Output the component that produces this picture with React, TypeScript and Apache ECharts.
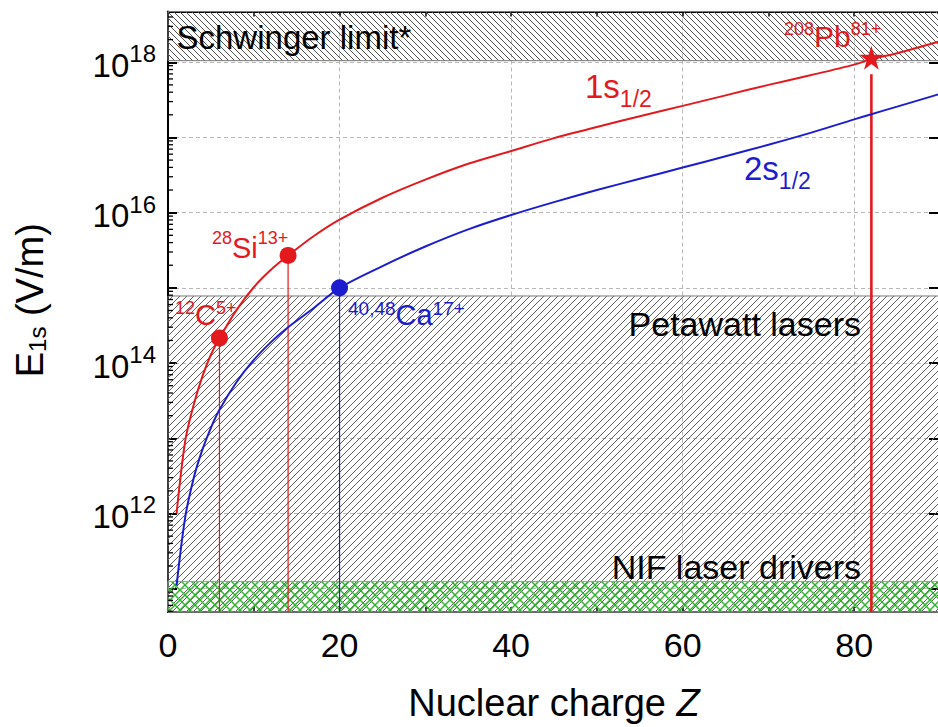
import React, { useEffect, useRef } from 'react';
import * as echarts from 'echarts';

const FONT = '"Liberation Sans", Arial, Helvetica, sans-serif';
const RED = '#e3191e';
const BLUE = '#1d1dd0';

// Curves: electric field at the 1s and 2s orbitals vs nuclear charge Z
const curveZ = [1, 2, 3, 4, 5, 6, 8, 10, 12, 14, 17, 20, 25, 30, 35, 40, 45, 50, 55, 60, 65, 70, 75, 80, 82, 85, 90];
const field1s = [1.0e12, 9.1e12, 2.8e13, 6.6e13, 1.29e14, 2.14e14, 5.1e14, 1.02e15, 1.74e15, 2.69e15, 4.9e15, 8.1e15, 1.58e16, 2.75e16, 4.47e16, 6.6e16, 9.8e16, 1.38e17, 1.91e17, 2.63e17, 3.63e17, 5.0e17, 6.76e17, 9.3e17, 1.1e18, 1.32e18, 1.9e18];
const field2s = [1.1e11, 8.8e11, 2.97e12, 7.0e12, 1.38e13, 2.4e13, 5.6e13, 1.1e14, 1.9e14, 3.0e14, 5.4e14, 1.0e15, 1.95e15, 3.55e15, 6.0e15, 9.3e15, 1.38e16, 2.0e16, 2.82e16, 3.98e16, 5.62e16, 8.0e16, 1.16e17, 1.74e17, 2.04e17, 2.57e17, 3.8e17];

// Highlighted ions
const ionZ = [6, 14, 20, 82];
const ionField = [2.15e14, 2.7e15, 1.0e15, 1.15e18];
const ionColor = [RED, RED, BLUE, RED];
const ionDropTop = [2.15e14, 2.7e15, 1.0e15, 6.9e17];

// Field regions
const schwingerLimit = 1.05e18;
const petawattLevel = 7.8e14;
const nifLevel = 1.25e11;

// Axes
const zMin = 0;
const zMax = 90;
const eMin = 4.9e10;
const eMax = 4.73e18;
const xLabelValues = [0, 20, 40, 60, 80];
const yLabelExponents = [12, 14, 16, 18];

function hatch(size: number, color: string, lw: number, dirs: string[]) {
  const c = document.createElement('canvas');
  c.width = size;
  c.height = size;
  const ctx = c.getContext('2d') as CanvasRenderingContext2D;
  ctx.strokeStyle = color;
  ctx.lineWidth = lw;
  for (const d of dirs) {
    for (const k of [-size, 0, size]) {
      ctx.beginPath();
      if (d === '/') {
        ctx.moveTo(k, size);
        ctx.lineTo(k + size, 0);
      } else {
        ctx.moveTo(k, 0);
        ctx.lineTo(k + size, size);
      }
      ctx.stroke();
    }
  }
  return { image: c.toDataURL(), repeat: 'repeat', imageWidth: size, imageHeight: size } as any;
}

const tok = (size: number, color: string, pad?: number[], extra?: any) => ({
  fontSize: size,
  fontFamily: FONT,
  fill: color,
  color,
  ...(pad ? { padding: pad } : {}),
  ...(extra || {}),
});

function textEl(x: number, y: number, text: string, opts: any = {}) {
  const align = opts.align || 'left';
  return {
    type: 'text',
    x,
    y,
    silent: true,
    z: 50,
    style: {
      text,
      rich: opts.rich,
      align,
      textAlign: align,
      verticalAlign: 'middle',
      textVerticalAlign: 'middle',
      fontFamily: FONT,
      fontSize: opts.fontSize || 32,
      fill: opts.color || '#000',
    },
  };
}

export default function App() {
  const ref = useRef<HTMLDivElement>(null);
  useEffect(() => {
    if (!ref.current) return;
    const chart = echarts.init(ref.current, undefined, { renderer: 'svg' });

    const schwingerFill = hatch(6, '#505050', 1, ['\\']);
    const petawattFill = hatch(7, '#5e5e5e', 1, ['/']);
    const nifFill = hatch(10, '#2fb82f', 1.5, ['/', '\\']);

    const minorVals: number[] = [];
    for (let d = 10; d <= 18; d++) {
      for (let k = 2; k <= 9; k++) {
        const v = k * Math.pow(10, d);
        if (v > eMin && v < eMax) minorVals.push(v);
      }
    }

    const tickLabelStyle = { color: '#000', fontFamily: FONT };

    const option: any = {
      animation: false,
      backgroundColor: '#fff',
      grid: { left: 168, top: 11.5, right: 0, bottom: 110.3, containLabel: false },
      xAxis: [
        {
          type: 'value',
          position: 'bottom',
          min: zMin,
          max: zMax,
          interval: 10,
          axisLine: { show: true, onZero: false, lineStyle: { color: '#000', width: 2 } },
          axisTick: { show: true, inside: true, length: 5, lineStyle: { color: '#000', width: 1.5 } },
          axisLabel: {
            ...tickLabelStyle,
            fontSize: 34,
            margin: 16,
            formatter: (v: number) => (xLabelValues.includes(v) ? String(v) : ''),
          },
          splitLine: { show: false },
          name: '{b|Nuclear charge }{i|Z}',
          nameLocation: 'middle',
          nameGap: 72,
          nameTextStyle: {
            fontSize: 38,
            fontFamily: FONT,
            color: '#000',
            rich: {
              b: { fontSize: 38, fontFamily: FONT, color: '#000' },
              i: { fontSize: 38, fontFamily: FONT, color: '#000', fontStyle: 'italic' },
            },
          },
        },
        {
          type: 'value',
          position: 'top',
          min: zMin,
          max: zMax,
          interval: 10,
          axisLine: { show: true, onZero: false, lineStyle: { color: '#000', width: 2 } },
          axisTick: { show: true, inside: true, length: 5, lineStyle: { color: '#000', width: 1.5 } },
          axisLabel: { show: false },
          splitLine: { show: false },
        },
        {
          type: 'value',
          position: 'bottom',
          min: zMin,
          max: zMax,
          interval: 20,
          axisLine: { show: false },
          axisTick: { show: false },
          axisLabel: { show: false },
          splitLine: { show: true, lineStyle: { color: '#b8b8b8', width: 1, type: [4, 3] } },
        },
      ],
      yAxis: [
        {
          type: 'log',
          logBase: 10,
          position: 'left',
          min: eMin,
          max: eMax,
          axisLine: { show: true, onZero: false, lineStyle: { color: '#000', width: 2 } },
          axisTick: { show: true, inside: true, length: 9, lineStyle: { color: '#000', width: 2 } },
          axisLabel: {
            ...tickLabelStyle,
            margin: 12,
            formatter: (v: number) => {
              const l = Math.log10(v);
              const e = Math.round(l);
              if (Math.abs(l - e) < 1e-6 && yLabelExponents.includes(e)) return `{b|10}{s|${e}}`;
              return '';
            },
            rich: {
              b: { fontSize: 33, fontFamily: FONT, color: '#000', padding: [6, 0, 0, 0] },
              s: { fontSize: 24, fontFamily: FONT, color: '#000', padding: [0, 0, 17, 0] },
            },
          },
          splitLine: { show: true, lineStyle: { color: '#b8b8b8', width: 1, type: [4, 3] } },
          name: '{b|E}{sub|1s}{b| (V/m)}',
          nameLocation: 'middle',
          nameGap: 119,
          nameTextStyle: {
            fontSize: 38,
            fontFamily: FONT,
            color: '#000',
            padding: [0, 0, 0, 23],
            rich: {
              b: { fontSize: 38, fontFamily: FONT, color: '#000' },
              sub: { fontSize: 24, fontFamily: FONT, color: '#000', padding: [15, 0, 0, 0] },
            },
          },
        },
        {
          type: 'log',
          logBase: 10,
          position: 'right',
          min: eMin,
          max: eMax,
          axisLine: { show: true, onZero: false, lineStyle: { color: '#000', width: 2 } },
          axisTick: { show: true, inside: true, length: 11, lineStyle: { color: '#000', width: 2 } },
          axisLabel: { show: false },
          splitLine: { show: false },
        },
      ],
      series: [
        {
          type: 'line',
          name: 'regions',
          silent: true,
          z: 1,
          data: [[zMin, eMin]],
          showSymbol: false,
          lineStyle: { opacity: 0 },
          markArea: {
            silent: true,
            label: { show: false },
            data: [
              [
                { yAxis: schwingerLimit, itemStyle: { color: schwingerFill, opacity: 1, borderColor: '#777', borderWidth: 1 } },
                { yAxis: eMax },
              ],
              [
                { yAxis: eMin, itemStyle: { color: petawattFill, opacity: 1, borderColor: '#777', borderWidth: 1 } },
                { yAxis: petawattLevel },
              ],
              [
                { yAxis: eMin, itemStyle: { color: nifFill, opacity: 1, borderColor: '#999', borderWidth: 1 } },
                { yAxis: nifLevel },
              ],
            ],
          },
        },
        ...ionZ.map((z, i) => ({
          type: 'line',
          silent: true,
          z: 3,
          showSymbol: false,
          data: [
            [z, ionDropTop[i]],
            [z, eMin],
          ],
          lineStyle: { color: ionColor[i], width: i === 3 ? 2.6 : 1.2 },
        })),
        {
          type: 'line',
          name: '1s1/2',
          silent: true,
          z: 4,
          showSymbol: false,
          smooth: 0.3,
          data: curveZ.map((z, i) => [z, field1s[i]]),
          lineStyle: { color: RED, width: 2 },
        },
        {
          type: 'line',
          name: '2s1/2',
          silent: true,
          z: 4,
          showSymbol: false,
          smooth: 0.3,
          data: curveZ.map((z, i) => [z, field2s[i]]),
          lineStyle: { color: BLUE, width: 2 },
        },
        {
          type: 'scatter',
          silent: true,
          z: 6,
          data: ionZ.map((z, i) => ({
            value: [z, ionField[i]],
            symbol: i === 3 ? 'path://M50,0 L61.8,36.2 L100,36.2 L69.1,58.8 L80.9,95.1 L50,72.7 L19.1,95.1 L30.9,58.8 L0,36.2 L38.2,36.2 Z' : 'circle',
            symbolSize: i === 3 ? 24 : 17,
            itemStyle: { color: ionColor[i], opacity: 1 },
          })),
        },
        {
          type: 'custom',
          silent: true,
          z: 7,
          data: minorVals.map((v) => [zMin, v]),
          renderItem: (_p: any, api: any) => {
            const p = api.coord([api.value(0), api.value(1)]);
            return {
              type: 'line',
              shape: { x1: p[0], y1: p[1], x2: p[0] + 5, y2: p[1] },
              style: { stroke: '#000', lineWidth: 1.3 },
            };
          },
        },
      ],
      graphic: [
        textEl(176.5, 37, 'Schwinger limit*', { fontSize: 33 }),
        textEl(861, 324, 'Petawatt lasers', { align: 'right', fontSize: 34 }),
        textEl(861, 566.5, 'NIF laser drivers', { align: 'right', fontSize: 34 }),
        textEl(585, 86, '{b|1s}{sub|1/2}', {
          color: RED,
          rich: { b: tok(33, RED), sub: tok(23, RED, [26, 0, 0, 0]) },
        }),
        textEl(744, 168.5, '{b|2s}{sub|1/2}', {
          color: BLUE,
          rich: { b: tok(33, BLUE), sub: tok(23, BLUE, [25, 0, 0, 0]) },
        }),
        textEl(784, 36, '{s|208}{b|Pb}{s|81+}', {
          color: RED,
          rich: { b: tok(30, RED), s: tok(18, RED, [0, 0, 15, 0]) },
        }),
        textEl(212, 247.5, '{s|28}{b|Si}{s|13+}', {
          color: RED,
          rich: { b: tok(29, RED), s: tok(18, RED, [0, 0, 19, 0]) },
        }),
        textEl(175, 315, '{s|12}{b|C}{s|5+}', {
          color: RED,
          rich: { b: tok(29, RED), s: tok(18, RED, [0, 0, 15, 0]) },
        }),
        textEl(348, 315, '{s|40,48}{b|Ca}{s|17+}', {
          color: BLUE,
          rich: { b: tok(29, BLUE), s: tok(19, BLUE, [0, 0, 14, 0]) },
        }),
      ],
    };

    chart.setOption(option);
    return () => chart.dispose();
  }, []);

  return (
    <div
      ref={ref}
      style={{ position: 'fixed', left: 0, top: 0, width: 943, height: 727, background: '#fff' }}
    />
  );
}
